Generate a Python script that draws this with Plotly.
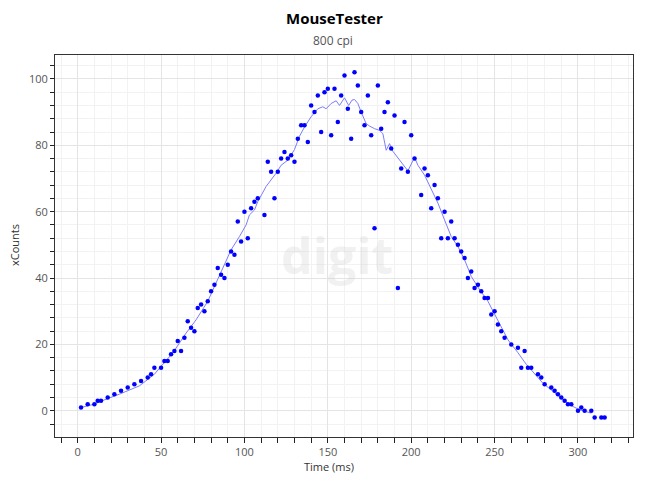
import plotly.graph_objects as go

# Raw samples (time in ms, xCounts)
time_ms = [2, 6, 10, 12, 14, 18, 22, 26, 30, 34, 38, 42, 44, 46, 50, 52, 54, 56, 58, 60,
           62, 64, 66, 68, 70, 72, 74, 76, 78, 80, 82, 84, 86, 88, 90, 92, 94, 96, 98, 100,
           102, 104, 106, 108, 112, 114, 116, 118, 120, 122, 124, 126, 128, 130, 132, 134, 136, 138, 140, 142,
           144, 146, 148, 150, 152, 154, 156, 158, 160, 162, 164, 166, 168, 170, 172, 174, 176, 178, 180, 182,
           184, 186, 188, 190, 192, 194, 196, 198, 200, 202, 206, 208, 210, 212, 214, 216, 218, 220, 222, 224,
           226, 228, 230, 232, 234, 236, 238, 240, 242, 244, 246, 248, 250, 252, 254, 256, 260, 264, 266, 268,
           270, 272, 276, 278, 280, 284, 286, 288, 290, 292, 294, 296, 300, 302, 304, 308, 310, 314, 316]
x_counts = [1, 2, 2, 3, 3, 4, 5, 6, 7, 8, 9, 10, 11, 13, 13, 15, 15, 17, 18, 21,
            18, 22, 27, 25, 24, 31, 32, 30, 33, 36, 38, 43, 41, 40, 44, 48, 47, 57, 51, 60,
            52, 61, 63, 64, 59, 75, 72, 64, 72, 76, 78, 76, 77, 75, 82, 86, 86, 81, 92, 90,
            95, 84, 96, 97, 83, 97, 87, 95, 101, 91, 82, 102, 98, 90, 86, 95, 83, 55, 98, 85,
            90, 93, 79, 89, 37, 73, 87, 72, 83, 76, 65, 73, 71, 61, 68, 64, 52, 60, 52, 57,
            52, 50, 48, 46, 40, 42, 37, 38, 36, 34, 34, 29, 30, 26, 24, 22, 20, 19, 13, 18,
            13, 13, 11, 10, 8, 7, 6, 5, 4, 3, 2, 2, 0, 1, 0, 0, -2, -2, -2]

# Smoothed trace
line_t = [2, 10, 17, 25, 37, 46, 50, 57, 65, 71, 78, 81, 87, 92, 97, 101, 103, 106, 108, 113,
          119, 122, 126, 130, 133, 136, 140, 144, 147, 149, 152, 155, 157, 160, 162.5, 164.5, 166, 168, 170, 171.5,
          173, 175, 178, 181, 183, 185, 187, 189, 193, 196, 198, 202, 204, 208, 212, 216, 220, 224, 228, 232,
          236, 241, 246, 252, 258, 264, 269, 279, 289, 295, 301, 308]
line_v = [1, 2, 3.5, 5, 7.5, 11, 13.4, 17.4, 23.4, 27.4, 33, 36.4, 43, 48.5, 52.5, 56, 59, 60.5, 63, 67.6,
          71.6, 74, 75.5, 78.7, 82.7, 85.5, 88.6, 91, 91.6, 91, 92.6, 93.4, 92, 94.3, 92, 93.6, 93.8, 92.6, 90, 88,
          86.5, 85.8, 85, 84.5, 83.5, 78.5, 80.5, 78.2, 75.5, 73.8, 72.3, 76.3, 74, 71, 66.6, 62.6, 57.5, 52.5, 49.5, 45.5,
          40.5, 36.5, 33, 27, 21.4, 17.5, 14, 8.3, 4.3, 1.8, 0.3, -0.7]

title_text = "MouseTester"
subtitle_text = "800 cpi"
x_title = "Time (ms)"
y_title = "xCounts"
watermark = "digit"

FONT = "Open Sans, Noto Sans, sans-serif"

fig = go.Figure()
fig.add_trace(go.Scatter(x=line_t, y=line_v, mode="lines",
                         line=dict(color="#7d7dfb", width=1), hoverinfo="skip",
                         showlegend=False))
fig.add_trace(go.Scatter(x=time_ms, y=x_counts, mode="markers",
                         marker=dict(color="#0000ff", size=4.5, line=dict(width=0)),
                         showlegend=False))

def px2paper_x(px):
    return (px - 55) / 578.0

def px2paper_y(py):
    return (437 - py) / 382.0

annots = [
    dict(text=f"<b>{title_text}</b>", x=px2paper_x(334), y=px2paper_y(18),
         font=dict(size=15, color="#000000", family=FONT)),
    dict(text=subtitle_text, x=px2paper_x(333), y=px2paper_y(40),
         font=dict(size=12, color="#555555", family=FONT)),
    dict(text=x_title, x=px2paper_x(329), y=px2paper_y(467),
         font=dict(size=11, color="#333333", family=FONT)),
    dict(text=y_title, x=px2paper_x(14), y=px2paper_y(245), textangle=-90,
         font=dict(size=11, color="#333333", family=FONT)),
    dict(text=f"<b>{watermark}</b>", x=px2paper_x(337), y=px2paper_y(255),
         font=dict(size=50, color="rgba(200,200,200,0.25)", family=FONT)),
]
for a in annots:
    a.update(xref="paper", yref="paper", showarrow=False, xanchor="center", yanchor="middle")

fig.update_layout(
    width=650, height=488,
    margin=dict(l=55, r=17, t=55, b=51),
    paper_bgcolor="white", plot_bgcolor="white",
    annotations=annots,
    font=dict(family=FONT, size=11, color="#555555"),
)
fig.update_xaxes(range=[-13.6, 333], tick0=0, dtick=50, ticks="outside", ticklen=5,
                 tickcolor="#222", tickwidth=1,
                 showgrid=True, gridcolor="#e4e4e4", gridwidth=1,
                 minor=dict(tick0=0, dtick=10, ticks="outside", ticklen=5, tickcolor="#222",
                            showgrid=True, gridcolor="#f2f2f2"),
                 showline=True, linecolor="#333", linewidth=1, mirror=True, zeroline=False,
                 tickfont=dict(size=11, color="#555555"))
fig.update_yaxes(range=[-7.9, 107.2], tick0=0, dtick=20, ticks="outside", ticklen=4,
                 tickcolor="#222", tickwidth=1,
                 showgrid=True, gridcolor="#e4e4e4", gridwidth=1,
                 minor=dict(tick0=0, dtick=4, ticks="outside", ticklen=4, tickcolor="#222",
                            showgrid=True, gridcolor="#f2f2f2"),
                 showline=True, linecolor="#333", linewidth=1, mirror=True, zeroline=False,
                 tickfont=dict(size=11, color="#555555"))

fig.write_html("out.html")
